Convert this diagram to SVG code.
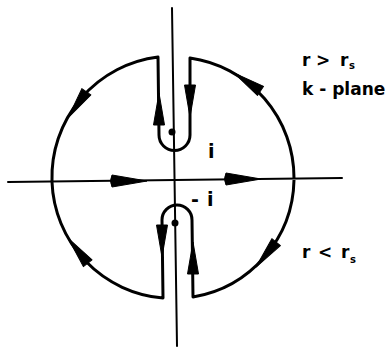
<svg xmlns="http://www.w3.org/2000/svg" width="388" height="349" viewBox="0 0 388 349">
<style>
.ax{stroke:#000;stroke-width:2;fill:none;stroke-linecap:round}
.ct{stroke:#000;stroke-width:3;fill:none;stroke-linejoin:round}
.ah{fill:#000;stroke:#000;stroke-width:1;stroke-linejoin:round}
.lb{font-family:"DejaVu Sans","Liberation Sans",sans-serif;font-weight:bold;fill:#000}
</style>
<defs>
<path id="ah" d="M0,0 L-32,-5.5 L-32,5.5 Z"/>
<path id="ahl" d="M0,0 L-35,-6 Q-38,0 -35,6 Z"/>
</defs>
<g id="axes">
<line class="ax" x1="172" y1="8" x2="177" y2="346"/>
<line class="ax" x1="8" y1="182" x2="342" y2="178"/>
</g>
<g id="connectors">
<path class="ct" d="M294,178 A121,121 0 0 0 190,58 L190,135 A15.5,15.5 0 0 1 159,135 L158,57 A121,121 0 0 0 52,181"/>
<path class="ct" d="M52,182 A121,121 0 0 0 163,298 L162,220 A15,15 0 0 1 192,220 L193,297 A121,121 0 0 0 294,180"/>
<g class="ah">
<use href="#ahl" transform="translate(147,181)"/>
<use href="#ahl" transform="translate(261,179)"/>
<use href="#ah" transform="translate(68,118) rotate(125)"/>
<use href="#ah" transform="translate(234,73) rotate(214)"/>
<use href="#ah" transform="translate(68,238) rotate(232)"/>
<use href="#ah" transform="translate(256,267) rotate(129)"/>
<use href="#ah" transform="translate(159,93) rotate(-90)"/>
<use href="#ah" transform="translate(190,117) rotate(90)"/>
<use href="#ah" transform="translate(162,257) rotate(90)"/>
<use href="#ah" transform="translate(193,242) rotate(-90)"/>
</g>
</g>
<g id="branch-i"><circle cx="172" cy="132" r="3.5"/></g>
<g id="branch-minus-i"><circle cx="175" cy="223" r="3.5"/></g>
<g id="label-i"><text class="lb" x="208" y="158" font-size="19">i</text></g>
<g id="label-minus-i"><text class="lb" x="191" y="206" font-size="19">-<tspan x="207">i</tspan></text></g>
<g id="label-r-gt"><text class="lb" x="302" y="66" font-size="17">r<tspan x="316">&gt;</tspan><tspan x="340">r</tspan><tspan x="349" y="69" font-size="10">s</tspan></text></g>
<g id="label-kplane"><text class="lb" x="302" y="95" font-size="17">k - plane</text></g>
<g id="label-r-lt"><text class="lb" x="302" y="258" font-size="17">r<tspan x="318">&lt;</tspan><tspan x="341">r</tspan><tspan x="350" y="263" font-size="10">s</tspan></text></g>
</svg>
